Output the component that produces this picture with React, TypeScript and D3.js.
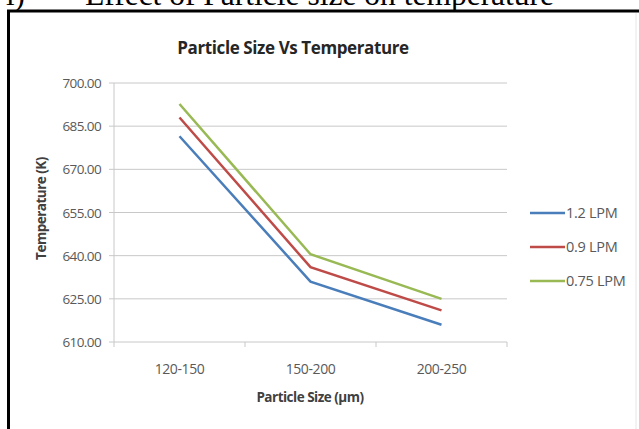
import React from "react";
import * as d3 from "d3";

const categories = ["120-150", "150-200", "200-250"];
const seriesNames = ["1.2 LPM", "0.9 LPM", "0.75 LPM"];
const lpm12 = [681.5, 631.0, 616.0];
const lpm09 = [688.0, 636.0, 621.0];
const lpm075 = [692.7, 640.5, 625.0];
const yTicks = [610, 625, 640, 655, 670, 685, 700];
const colors = ["#4a7ebb", "#be4b48", "#98b954"];

export default function App() {
  const W = 639, H = 429;
  const left = 114, right = 507, top = 83, bottom = 342;
  const x = d3.scaleBand<string>().domain(categories).range([left, right]);
  const y = d3.scaleLinear().domain([610, 700]).range([bottom, top]);
  const series = [lpm12, lpm09, lpm075];
  const line = d3
    .line<number>()
    .x((_, i) => (x(categories[i]) as number) + x.bandwidth() / 2)
    .y((d) => y(d));
  const font = "'Open Sans', 'Liberation Sans', sans-serif";
  const boundaries = [left, ...categories.map((c) => (x(c) as number) + x.bandwidth())];
  return (
    <svg
      width={W}
      height={H}
      style={{ position: "absolute", left: 0, top: 0, background: "#fff" }}
    >
      <text
        x={6}
        y={5}
        fontFamily="'Liberation Serif', 'Times New Roman', serif"
        fontSize={31}
        fill="#000"
      >
        i)
      </text>
      <text
        x={85}
        y={5}
        fontFamily="'Liberation Serif', 'Times New Roman', serif"
        fontSize={31.5}
        fill="#000"
      >
        Effect of Particle size on temperature
      </text>
      <rect x={0} y={10} width={W} height={H} fill="#fff" />
      <line x1={7} y1={11} x2={639} y2={11} stroke="#000" strokeWidth={3} />
      <line x1={8.5} y1={10} x2={8.5} y2={429} stroke="#000" strokeWidth={3} />
      <line x1={636} y1={13} x2={636} y2={429} stroke="#e6e6e6" strokeWidth={1} />
      <text
        x={293}
        y={54}
        textAnchor="middle"
        fontFamily={font}
        fontWeight="bold"
        fontSize={17}
        fill="#262626"
        letterSpacing={-0.4}
      >
        Particle  Size Vs Temperature
      </text>
      {yTicks.map((t) => (
        <g key={t}>
          <line x1={left - 5} x2={right} y1={y(t)} y2={y(t)} stroke="#c8c8c8" strokeWidth={1} />
          <text
            x={left - 13}
            y={y(t) + 5}
            textAnchor="end"
            fontFamily={font}
            fontSize={13.5}
            fill="#595959"
            letterSpacing={-0.6}
          >
            {t.toFixed(2)}
          </text>
        </g>
      ))}
      <line x1={left} x2={left} y1={top} y2={bottom} stroke="#c8c8c8" />
      {boundaries.map((b, i) => (
        <line key={i} x1={b} x2={b} y1={bottom} y2={bottom + 5} stroke="#c8c8c8" />
      ))}
      {categories.map((c) => (
        <text
          key={c}
          x={(x(c) as number) + x.bandwidth() / 2}
          y={374}
          textAnchor="middle"
          fontFamily={font}
          fontSize={14}
          fill="#595959"
          letterSpacing={-0.4}
        >
          {c}
        </text>
      ))}
      <text
        x={310}
        y={402}
        textAnchor="middle"
        fontFamily={font}
        fontWeight="bold"
        fontSize={13.5}
        fill="#404040"
        letterSpacing={-0.5}
      >
        Particle Size (µm)
      </text>
      <text
        transform={`translate(46,${(top + bottom) / 2 - 4}) rotate(-90)`}
        textAnchor="middle"
        fontFamily={font}
        fontWeight="bold"
        fontSize={13.5}
        fill="#404040"
        letterSpacing={-0.5}
      >
        Temperature (K)
      </text>
      {series.map((s, i) => (
        <path key={i} d={line(s) || ""} fill="none" stroke={colors[i]} strokeWidth={2.5} />
      ))}
      {seriesNames.map((n, i) => (
        <g key={n}>
          <line
            x1={530}
            x2={565}
            y1={213 + i * 34}
            y2={213 + i * 34}
            stroke={colors[i]}
            strokeWidth={2.5}
          />
          <text
            x={566}
            y={218 + i * 34}
            fontFamily={font}
            fontSize={14.5}
            fill="#595959"
            letterSpacing={-0.3}
          >
            {n}
          </text>
        </g>
      ))}
    </svg>
  );
}
